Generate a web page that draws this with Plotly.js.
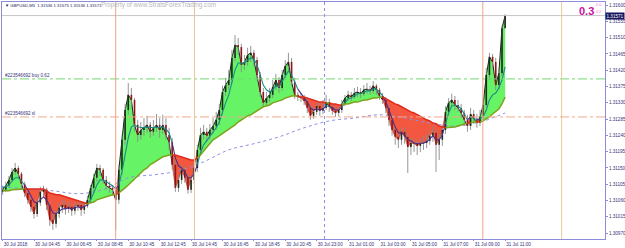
<!DOCTYPE html>
<html><head><meta charset="utf-8">
<script src="https://cdn.plot.ly/plotly-3.0.1.min.js"></script>
<style>html,body{margin:0;padding:0;background:#fff}#chart{width:625px;height:248px}</style>
</head><body><div id="chart"></div>
<script>
const tickBars = [0,10,20,30,40,50,60,70,80,90,100,110,120,130,140,150,160];
const tickLabels = ['30 Jul 2018','30 Jul 04:45','30 Jul 06:45','30 Jul 08:45','30 Jul 10:45','30 Jul 12:45','30 Jul 14:45','30 Jul 16:45','30 Jul 18:45','30 Jul 20:45','30 Jul 23:00','31 Jul 01:00','31 Jul 03:00','31 Jul 05:00','31 Jul 07:00','31 Jul 09:00','31 Jul 11:00'];
const yTicks = [1.30970,1.31015,1.31060,1.31105,1.31150,1.31195,1.31240,1.31285,1.31330,1.31375,1.31420,1.31465,1.31510,1.31555,1.31600];

const open = [1.31084,1.31090,1.31101,1.31117,1.31139,1.31150,1.31134,1.31106,1.31081,1.31062,1.31043,
1.31023,1.31054,1.31084,1.31090,1.31048,1.31007,1.30996,1.31023,1.31040,1.31048,
1.31037,1.31043,1.31032,1.31043,1.31048,1.31034,1.31045,1.31062,1.31095,1.31123,
1.31150,1.31145,1.31117,1.31101,1.31095,1.31090,1.31062,1.31145,1.31228,1.31310,
1.31352,1.31338,1.31269,1.31241,1.31255,1.31261,1.31269,1.31250,1.31261,1.31269,
1.31255,1.31269,1.31241,1.31222,1.31159,1.31095,1.31117,1.31145,1.31123,1.31090,
1.31117,1.31150,1.31200,1.31241,1.31250,1.31239,1.31255,1.31266,1.31283,1.31310,
1.31360,1.31379,1.31393,1.31454,1.31490,1.31484,1.31435,1.31443,1.31462,1.31468,
1.31448,1.31407,1.31360,1.31330,1.31343,1.31352,1.31374,1.31393,1.31371,1.31407,
1.31432,1.31443,1.31388,1.31352,1.31346,1.31343,1.31335,1.31316,1.31294,1.31305,
1.31321,1.31308,1.31316,1.31332,1.31319,1.31308,1.31302,1.31310,1.31327,1.31343,
1.31352,1.31346,1.31357,1.31360,1.31355,1.31366,1.31368,1.31363,1.31377,1.31366,
1.31349,1.31338,1.31316,1.31283,1.31255,1.31236,1.31228,1.31250,1.31236,1.31208,
1.31219,1.31217,1.31211,1.31217,1.31219,1.31225,1.31239,1.31247,1.31214,1.31228,
1.31255,1.31305,1.31330,1.31338,1.31324,1.31316,1.31302,1.31283,1.31266,1.31299,
1.31286,1.31274,1.31291,1.31324,1.31407,1.31457,1.31443,1.31379,1.31412,1.31536];

const high = [1.31101,1.31112,1.31128,1.31150,1.31164,1.31156,1.31139,1.31112,1.31090,1.31070,
1.31051,1.31062,1.31098,1.31101,1.31095,1.31054,1.31021,1.31034,1.31054,1.31062,
1.31059,1.31056,1.31051,1.31054,1.31062,1.31056,1.31054,1.31073,1.31103,1.31134,
1.31161,1.31159,1.31150,1.31128,1.31112,1.31103,1.31101,1.31159,1.31241,1.31327,
1.31385,1.31371,1.31343,1.31283,1.31277,1.31288,1.31294,1.31277,1.31283,1.31299,
1.31288,1.31297,1.31288,1.31261,1.31233,1.31172,1.31131,1.31159,1.31156,1.31134,
1.31128,1.31167,1.31214,1.31261,1.31269,1.31261,1.31272,1.31288,1.31305,1.31327,
1.31377,1.31399,1.31421,1.31476,1.31517,1.31509,1.31493,1.31462,1.31482,1.31487,
1.31476,1.31457,1.31415,1.31371,1.31360,1.31371,1.31393,1.31410,1.31401,1.31421,
1.31448,1.31468,1.31454,1.31399,1.31360,1.31357,1.31352,1.31343,1.31324,1.31319,
1.31332,1.31330,1.31338,1.31352,1.31341,1.31327,1.31319,1.31321,1.31338,1.31352,
1.31363,1.31360,1.31371,1.31374,1.31371,1.31379,1.31385,1.31377,1.31390,1.31382,
1.31371,1.31357,1.31346,1.31324,1.31291,1.31263,1.31250,1.31261,1.31261,1.31247,
1.31233,1.31233,1.31228,1.31233,1.31239,1.31244,1.31255,1.31266,1.31255,1.31244,
1.31269,1.31321,1.31343,1.31355,1.31349,1.31338,1.31327,1.31310,1.31297,1.31316,
1.31310,1.31299,1.31310,1.31338,1.31426,1.31468,1.31465,1.31454,1.31426,1.31542,
1.31575];

const low = [1.31076,1.31084,1.31095,1.31112,1.31131,1.31123,1.31095,1.31070,1.31051,1.31029,
1.31010,1.31015,1.31045,1.31070,1.31034,1.30990,1.30979,1.30985,1.31012,1.31026,
1.31021,1.31026,1.31018,1.31021,1.31032,1.31018,1.31023,1.31040,1.31054,1.31084,
1.31112,1.31128,1.31106,1.31090,1.31081,1.31073,1.30979,1.31051,1.31131,1.31214,
1.31297,1.31316,1.31250,1.31222,1.31228,1.31239,1.31247,1.31233,1.31239,1.31250,
1.31233,1.31244,1.31228,1.31200,1.31145,1.31084,1.31084,1.31106,1.31109,1.31079,
1.31081,1.31106,1.31139,1.31186,1.31228,1.31222,1.31228,1.31244,1.31255,1.31269,
1.31297,1.31349,1.31366,1.31382,1.31443,1.31462,1.31415,1.31421,1.31432,1.31443,
1.31432,1.31393,1.31346,1.31319,1.31321,1.31332,1.31343,1.31366,1.31357,1.31363,
1.31399,1.31421,1.31377,1.31341,1.31335,1.31332,1.31324,1.31302,1.31283,1.31286,
1.31297,1.31294,1.31299,1.31310,1.31305,1.31297,1.31291,1.31294,1.31302,1.31321,
1.31335,1.31335,1.31341,1.31346,1.31343,1.31349,1.31355,1.31352,1.31355,1.31352,
1.31338,1.31327,1.31302,1.31266,1.31239,1.31214,1.31205,1.31214,1.31217,1.31136,
1.31186,1.31194,1.31186,1.31194,1.31200,1.31205,1.31214,1.31222,1.31139,1.31172,
1.31211,1.31244,1.31294,1.31319,1.31310,1.31305,1.31288,1.31266,1.31250,1.31255,
1.31272,1.31261,1.31266,1.31283,1.31316,1.31393,1.31426,1.31366,1.31366,1.31404,
1.31536];

const close = [1.31090,1.31101,1.31117,1.31139,1.31150,1.31134,1.31106,1.31081,1.31062,1.31043,
1.31023,1.31054,1.31084,1.31090,1.31048,1.31007,1.30996,1.31023,1.31040,1.31048,
1.31037,1.31043,1.31032,1.31043,1.31048,1.31034,1.31045,1.31062,1.31095,1.31123,
1.31150,1.31145,1.31117,1.31101,1.31095,1.31090,1.31062,1.31145,1.31228,1.31310,
1.31352,1.31338,1.31269,1.31241,1.31255,1.31261,1.31269,1.31250,1.31261,1.31269,
1.31255,1.31269,1.31241,1.31222,1.31159,1.31095,1.31117,1.31145,1.31123,1.31090,
1.31117,1.31150,1.31200,1.31241,1.31250,1.31239,1.31255,1.31266,1.31283,1.31310,
1.31360,1.31379,1.31393,1.31454,1.31490,1.31484,1.31435,1.31443,1.31462,1.31468,
1.31448,1.31407,1.31360,1.31330,1.31343,1.31352,1.31374,1.31393,1.31371,1.31407,
1.31432,1.31443,1.31388,1.31352,1.31346,1.31343,1.31335,1.31316,1.31294,1.31305,
1.31321,1.31308,1.31316,1.31332,1.31319,1.31308,1.31302,1.31310,1.31327,1.31343,
1.31352,1.31346,1.31357,1.31360,1.31355,1.31366,1.31368,1.31363,1.31377,1.31366,
1.31349,1.31338,1.31316,1.31283,1.31255,1.31236,1.31228,1.31250,1.31236,1.31208,
1.31219,1.31217,1.31211,1.31217,1.31219,1.31225,1.31239,1.31247,1.31214,1.31228,
1.31255,1.31305,1.31330,1.31338,1.31324,1.31316,1.31302,1.31283,1.31266,1.31299,
1.31286,1.31274,1.31291,1.31324,1.31407,1.31457,1.31443,1.31379,1.31412,1.31536,
1.31571];

const slowMA = [1.31087,1.31087,1.31087,1.31090,1.31090,1.31092,1.31092,1.31092,1.31092,1.31090,
1.31090,1.31090,1.31092,1.31092,1.31087,1.31081,1.31079,1.31076,1.31076,1.31073,
1.31070,1.31067,1.31065,1.31062,1.31059,1.31056,1.31054,1.31051,1.31054,1.31056,
1.31062,1.31065,1.31067,1.31070,1.31073,1.31076,1.31076,1.31081,1.31087,1.31095,
1.31103,1.31112,1.31120,1.31128,1.31136,1.31145,1.31150,1.31159,1.31164,1.31170,
1.31175,1.31181,1.31183,1.31186,1.31186,1.31186,1.31183,1.31181,1.31178,1.31175,
1.31172,1.31172,1.31178,1.31186,1.31197,1.31208,1.31219,1.31228,1.31233,1.31239,
1.31244,1.31252,1.31258,1.31263,1.31269,1.31277,1.31283,1.31288,1.31294,1.31297,
1.31302,1.31308,1.31313,1.31319,1.31321,1.31324,1.31330,1.31332,1.31335,1.31338,
1.31343,1.31346,1.31349,1.31349,1.31349,1.31346,1.31346,1.31343,1.31341,1.31338,
1.31335,1.31332,1.31332,1.31330,1.31330,1.31327,1.31327,1.31324,1.31324,1.31327,
1.31327,1.31330,1.31332,1.31332,1.31335,1.31338,1.31338,1.31341,1.31343,1.31343,
1.31346,1.31346,1.31341,1.31338,1.31332,1.31327,1.31324,1.31319,1.31316,1.31310,
1.31305,1.31302,1.31297,1.31291,1.31288,1.31283,1.31280,1.31274,1.31272,1.31266,
1.31263,1.31261,1.31261,1.31263,1.31263,1.31266,1.31269,1.31272,1.31274,1.31274,
1.31277,1.31277,1.31277,1.31280,1.31286,1.31291,1.31299,1.31305,1.31313,1.31327,
1.31346];

const midMA = [1.31095,1.31098,1.31103,1.31114,1.31123,1.31123,1.31114,1.31103,1.31090,1.31073,
1.31056,1.31054,1.31062,1.31070,1.31062,1.31043,1.31026,1.31023,1.31029,1.31037,
1.31037,1.31040,1.31037,1.31040,1.31043,1.31040,1.31043,1.31048,1.31062,1.31081,
1.31103,1.31117,1.31117,1.31112,1.31106,1.31101,1.31092,1.31103,1.31139,1.31186,
1.31233,1.31263,1.31269,1.31263,1.31261,1.31261,1.31263,1.31261,1.31261,1.31263,
1.31261,1.31263,1.31258,1.31247,1.31219,1.31178,1.31156,1.31150,1.31139,1.31123,
1.31123,1.31134,1.31159,1.31192,1.31214,1.31225,1.31236,1.31247,1.31261,1.31277,
1.31305,1.31330,1.31352,1.31385,1.31421,1.31440,1.31440,1.31440,1.31448,1.31454,
1.31451,1.31435,1.31407,1.31379,1.31366,1.31360,1.31366,1.31377,1.31374,1.31388,
1.31404,1.31418,1.31407,1.31385,1.31368,1.31357,1.31346,1.31332,1.31316,1.31310,
1.31313,1.31310,1.31313,1.31321,1.31321,1.31316,1.31310,1.31310,1.31319,1.31330,
1.31341,1.31343,1.31349,1.31355,1.31355,1.31360,1.31363,1.31363,1.31368,1.31368,
1.31360,1.31349,1.31332,1.31310,1.31286,1.31263,1.31247,1.31247,1.31241,1.31228,
1.31225,1.31219,1.31217,1.31217,1.31219,1.31222,1.31230,1.31239,1.31228,1.31228,
1.31241,1.31272,1.31302,1.31321,1.31324,1.31321,1.31313,1.31299,1.31283,1.31291,
1.31288,1.31283,1.31286,1.31291,1.31310,1.31338,1.31352,1.31357,1.31371,1.31393,
1.31429];

const longMABars = [0,8,16,24,32,40,48,56,64,72,80,88,96,104,112,120,128,136,144,152,160];
const longMA = [1.31098,1.31092,1.31087,1.31079,1.31090,1.31123,1.31131,1.31142,1.31167,1.31200,1.31217,1.31236,1.31261,1.31280,1.31288,1.31297,1.31288,1.31274,1.31266,1.31277,1.31302];

const buyLevel = 1.31396;
const slLevel = 1.31291;
const bidPrice = 1.31571;
const barOHLC = {o:'1.31536', h:'1.31575', l:'1.31536', c:'1.31571'};
const vlineBars = [36, 61.1, 102.5, 152.9, 178];

// ---- build traces ----
const n = close.length;
const bars = close.map((_, i) => i);
const up = close.map((c, i) => c >= slowMA[i]);
const runs = [];
let s = 0;
for (let i = 1; i <= n; i++) {
  if (i === n || up[i] !== up[s]) { runs.push({a: s, b: Math.min(i, n - 1), up: up[s]}); s = i; }
}
const sl = (arr, r) => arr.slice(r.a, r.b + 1);
const GREEN = '#66f466', RED = '#f4573f';
const traces = [];
runs.forEach(r => {
  traces.push({type:'scatter', mode:'lines', x: sl(bars, r), y: sl(slowMA, r), line:{width:0, color:'rgba(0,0,0,0)'}, hoverinfo:'skip'});
  traces.push({type:'scatter', mode:'lines', x: sl(bars, r), y: sl(close, r), fill:'tonexty',
    fillcolor: r.up ? GREEN : RED, line:{width: r.up ? 0.9 : 0.5, color: r.up ? '#0a0a0a' : '#a02018'}, hoverinfo:'skip'});
});
traces.push({type:'scatter', mode:'lines', x: longMABars, y: longMA, line:{color:'#8e8ee6', width:1, dash:'dot', shape:'spline'}, hoverinfo:'skip'});
const wx = [], wy = [], ux = [], uy = [], dx = [], dy = [];
for (let i = 0; i < n; i++) {
  wx.push(bars[i], bars[i], null); wy.push(low[i], high[i], null);
  if (close[i] >= open[i]) { ux.push(bars[i], bars[i], null); uy.push(open[i], close[i], null); }
  else { dx.push(bars[i], bars[i], null); dy.push(open[i], close[i], null); }
}
traces.push({type:'scatter', mode:'lines', x: wx, y: wy, line:{color:'#8a8a8a', width:0.9}, hoverinfo:'skip'});
traces.push({type:'scatter', mode:'lines', x: ux, y: uy, line:{color:'#1c2a1c', width:1.6}, hoverinfo:'skip'});
traces.push({type:'scatter', mode:'lines', x: dx, y: dy, line:{color:'#8e1616', width:1.6}, hoverinfo:'skip'});
runs.forEach(r => {
  traces.push({type:'scatter', mode:'lines', x: sl(bars, r), y: sl(midMA, r), line:{width:1.1, color: r.up ? '#1b8a86' : '#4a2f86'}, hoverinfo:'skip'});
  traces.push({type:'scatter', mode:'lines', x: sl(bars, r), y: sl(slowMA, r), line:{width:1.5, color: r.up ? '#7fa21a' : '#e02a1a'}, hoverinfo:'skip'});
});

const axisCol = '#8c8cd8';
const FONT = 'Liberation Sans, Arial, sans-serif';
const tickFont = {family:FONT, size:4.6, color:'#34347a'};
const vcols = ['#f4a282', '#e8c898', '#8c8ce6', '#f4a282', '#e8c898'];
const shapes = [
  {type:'line', xref:'paper', x0:0, x1:1, yref:'y', y0:bidPrice, y1:bidPrice, line:{color:'#c6c6c6', width:1}, layer:'above'},
  {type:'line', xref:'paper', x0:0, x1:1, yref:'y', y0:buyLevel, y1:buyLevel, line:{color:'#74d874', width:1, dash:'dashdot'}, layer:'above'},
  {type:'line', xref:'paper', x0:0, x1:1, yref:'y', y0:slLevel, y1:slLevel, line:{color:'#f2a88c', width:1, dash:'dashdot'}, layer:'above'}
];
vlineBars.forEach((b, k) => shapes.push({type:'line', xref:'x', x0:b, x1:b, yref:'paper', y0:0, y1:1,
  line:{color:vcols[k], width:1, dash: k === 2 ? 'dot' : 'solid'}, layer:'above'}));

const annotations = [
  {xref:'paper', yref:'paper', x:0.002, y:0.987, xanchor:'left', yanchor:'middle', showarrow:false,
   text:'▼ GBPUSD,M5  ' + barOHLC.o + ' ' + barOHLC.h + ' ' + barOHLC.l + ' ' + barOHLC.c,
   font:{family:FONT, size:4.2, color:'#1e1e5e'}},
  {xref:'paper', yref:'paper', x:0.161, y:0.987, xanchor:'left', yanchor:'middle', showarrow:false,
   text:'Property of www.StratsForexTrading.com', font:{family:FONT, size:6.3, color:'#b8b8b8'}},
  {xref:'paper', yref:'paper', x:0.9536, y:0.962, xanchor:'left', yanchor:'middle', showarrow:false,
   text:'<b>0.3</b>', font:{family:FONT, size:11, color:'#c8109e'}},
  {xref:'paper', yref:'paper', x:0.981, y:0.99, xanchor:'left', yanchor:'middle', showarrow:false,
   text:'0.0', font:{family:FONT, size:4, color:'#ff70e0'}},
  {xref:'paper', yref:'paper', x:0.981, y:0.958, xanchor:'left', yanchor:'middle', showarrow:false,
   text:'0.2', font:{family:FONT, size:4, color:'#ff70e0'}},
  {xref:'paper', yref:'y', x:0.002, y:buyLevel, xanchor:'left', yanchor:'bottom', showarrow:false, yshift:-1,
   text:'#223546692 buy 0.62', font:{family:FONT, size:4.6, color:'#34347a'}},
  {xref:'paper', yref:'y', x:0.002, y:slLevel, xanchor:'left', yanchor:'bottom', showarrow:false, yshift:-1,
   text:'#223546692 sl', font:{family:FONT, size:4.6, color:'#34347a'}},
  {xref:'paper', yref:'y', x:1, y:bidPrice, xanchor:'left', yanchor:'middle', showarrow:false, xshift:0,
   text:bidPrice.toFixed(5), bgcolor:'#16165e', borderpad:0.5, font:{family:FONT, size:4.6, color:'#ffffff'}}
];

const layout = {
  width:625, height:248, margin:{l:2, r:20, t:2, b:9, pad:0},
  paper_bgcolor:'#ffffff', plot_bgcolor:'#ffffff', showlegend:false,
  xaxis:{range:[-0.2, 191.8], showgrid:false, zeroline:false, showline:true, mirror:true, linecolor:axisCol, linewidth:1,
    tickmode:'array', tickvals:tickBars, ticktext:tickLabels, ticks:'outside', ticklen:1, tickcolor:axisCol, tickangle:0,
    ticklabelposition:'outside right', ticklabelstandoff:0, tickfont:tickFont, fixedrange:true, automargin:false},
  yaxis:{side:'right', range:[1.309538, 1.316085], showgrid:false, zeroline:false, showline:true, mirror:true, linecolor:axisCol, linewidth:1,
    tickmode:'array', tickvals:yTicks, tickformat:'.5f', ticks:'outside', ticklen:2, tickcolor:axisCol, ticklabelstandoff:0,
    tickfont:tickFont, fixedrange:true, automargin:false},
  shapes, annotations
};
Plotly.newPlot('chart', traces, layout, {staticPlot:true, displayModeBar:false});
</script></body></html>
